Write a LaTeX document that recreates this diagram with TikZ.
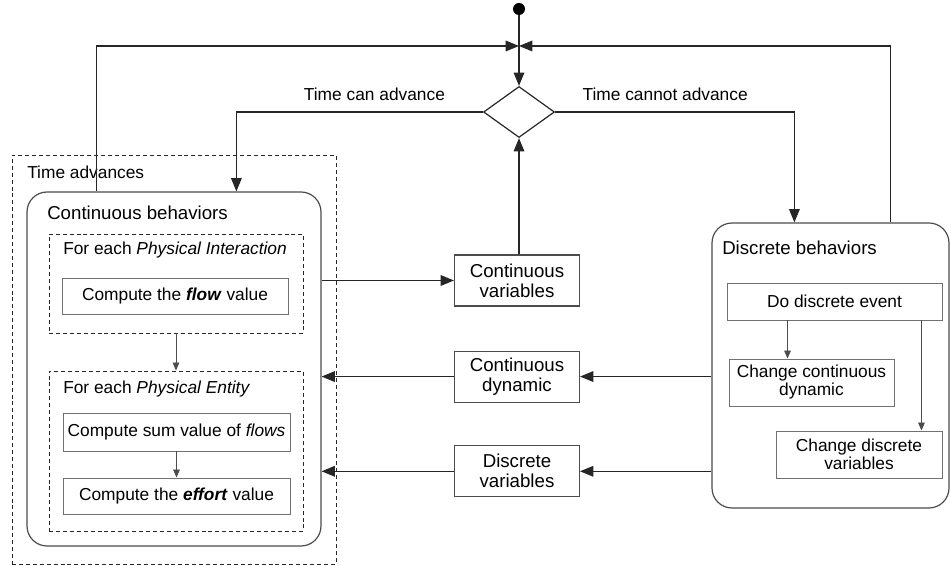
\documentclass[tikz,border=0pt]{standalone}
\usepackage{fontspec}
\setmainfont{Liberation Sans}
\usetikzlibrary{arrows.meta, positioning, shapes.geometric, calc}
\definecolor{boxline}{gray}{0.3}

\begin{document}
\begin{tikzpicture}[
        x=0.75pt, y=-0.75pt,
        every node/.style={align=center, inner sep=0pt, font=\fontsize{13}{13.5}\selectfont},
        group/.style={draw=boxline, rounded corners=15pt, line width=0.9pt},
        dashgroup/.style={draw=black!85, dash pattern=on 3pt off 2.2pt, line width=0.7pt},
        title/.style={anchor=west, font=\fontsize{14}{15}\selectfont},
        subtitle/.style={anchor=west},
        stepbox/.style={draw=boxline!80, line width=0.7pt},
        varbox/.style={draw=boxline, line width=0.8pt, minimum width=93.75pt, minimum height=38.25pt, font=\fontsize{14}{15}\selectfont},
        arr/.style={draw=black!85, line width=0.9pt, -{Triangle[length=10pt, width=8pt]}},
        sarr/.style={draw=black!70, line width=0.7pt, -{Triangle[length=6pt, width=5pt]}},
        lbl/.style={above=8pt},
    ]
    \useasboundingbox (0,0) rectangle (951,566);

    % time advances side
    \node[dashgroup, minimum width=243pt, minimum height=306.75pt] (ta) at (174,359.5) {};
    \node[subtitle] (tatitle) at (27,172) {Time advances};
    \node[group, minimum width=220.5pt, minimum height=265.5pt] (cb) at (174,369) {};
    \node[title] (cbtitle) at (47,213) {Continuous behaviors};
    \node[dashgroup, minimum width=190.5pt, minimum height=74.25pt] (pi) at (176,283.5) {};
    \node[subtitle] (pititle) at (63,250) {For each \textit{Physical Interaction}};
    \node[stepbox, minimum width=169.5pt, minimum height=27pt] (flow) at (175,296) {Compute the \textbf{\textit{flow}} value};
    \node[dashgroup, minimum width=190.5pt, minimum height=120pt] (pe) at (176,451) {};
    \node[subtitle] (petitle) at (63,389) {For each \textit{Physical Entity}};
    \node[stepbox, minimum width=170.25pt, minimum height=28.5pt] (sum) at (176.5,432) {Compute sum value of \textit{flows}};
    \node[stepbox, minimum width=170.25pt, minimum height=27pt] (effort) at (176.5,496) {Compute the \textbf{\textit{effort}} value};

    % exchanged data
    \node[varbox] (cv) at (517,280.5) {Continuous\\variables};
    \node[varbox, below=33pt of cv] (cd) {Continuous\\dynamic};
    \node[varbox, below=32pt of cd] (dv) {Discrete\\variables};

    % discrete side
    \node[group, minimum width=177.75pt, minimum height=213.75pt] (db) at (830.5,365.5) {};
    \node[title] (dbtitle) at (722,248) {Discrete behaviors};
    \node[stepbox, minimum width=161.25pt, minimum height=27.75pt] (de) at (834.5,301.5) {Do discrete event};
    \node[stepbox, minimum width=123.75pt, minimum height=35.25pt] (ccd) at (811.5,382.5) {Change continuous\\dynamic};
    \node[stepbox, minimum width=124.5pt, minimum height=35.25pt] (cdv) at (859,454.5) {Change discrete\\variables};

    % start and decision
    \node[circle, fill=black, minimum size=9pt] (start) at (519,9) {};
    \coordinate (merge) at (519,46);
    \node[diamond, draw=black!85, line width=0.9pt, minimum width=53.25pt, minimum height=38.25pt] (dec) at (519,112) {};

    \draw[draw=black!85, line width=0.9pt] (start) -- (merge);
    \draw[arr] (merge) -- (dec);
    \draw[arr] ($(cb.north west)+(70,0)$) |- (merge);
    \draw[arr] ($(db.north west)+(179,0)$) |- (merge);
    \draw[arr] (dec.west) -| node[lbl, pos=0.22] (tca) {Time can advance} ($(cb.north west)+(210,0)$);
    \draw[arr] (dec.east) -| node[lbl, pos=0.23] (tna) {Time cannot advance} ($(db.north west)+(83,0)$);
    \draw[arr] (cv.north -| dec.south) -- (dec.south);
    \draw[arr] (cb.east |- cv.west) -- (cv.west);
    \draw[arr] (cd.west) -- (cb.east |- cd.west);
    \draw[arr] (dv.west) -- (cb.east |- dv.west);
    \draw[arr] (db.west |- cd.east) -- (cd.east);
    \draw[arr] (db.west |- dv.east) -- (dv.east);

    \draw[sarr] (pi.south) -- (pe.north);
    \draw[sarr] (sum) -- (effort);
    \draw[sarr] ($(de.south west)+(61,0)$) -- ($(ccd.north west)+(59,0)$);
    \draw[sarr] ($(de.south east)+(-21,0)$) -- ($(cdv.north east)+(-21,0)$);
\end{tikzpicture}
\end{document}
